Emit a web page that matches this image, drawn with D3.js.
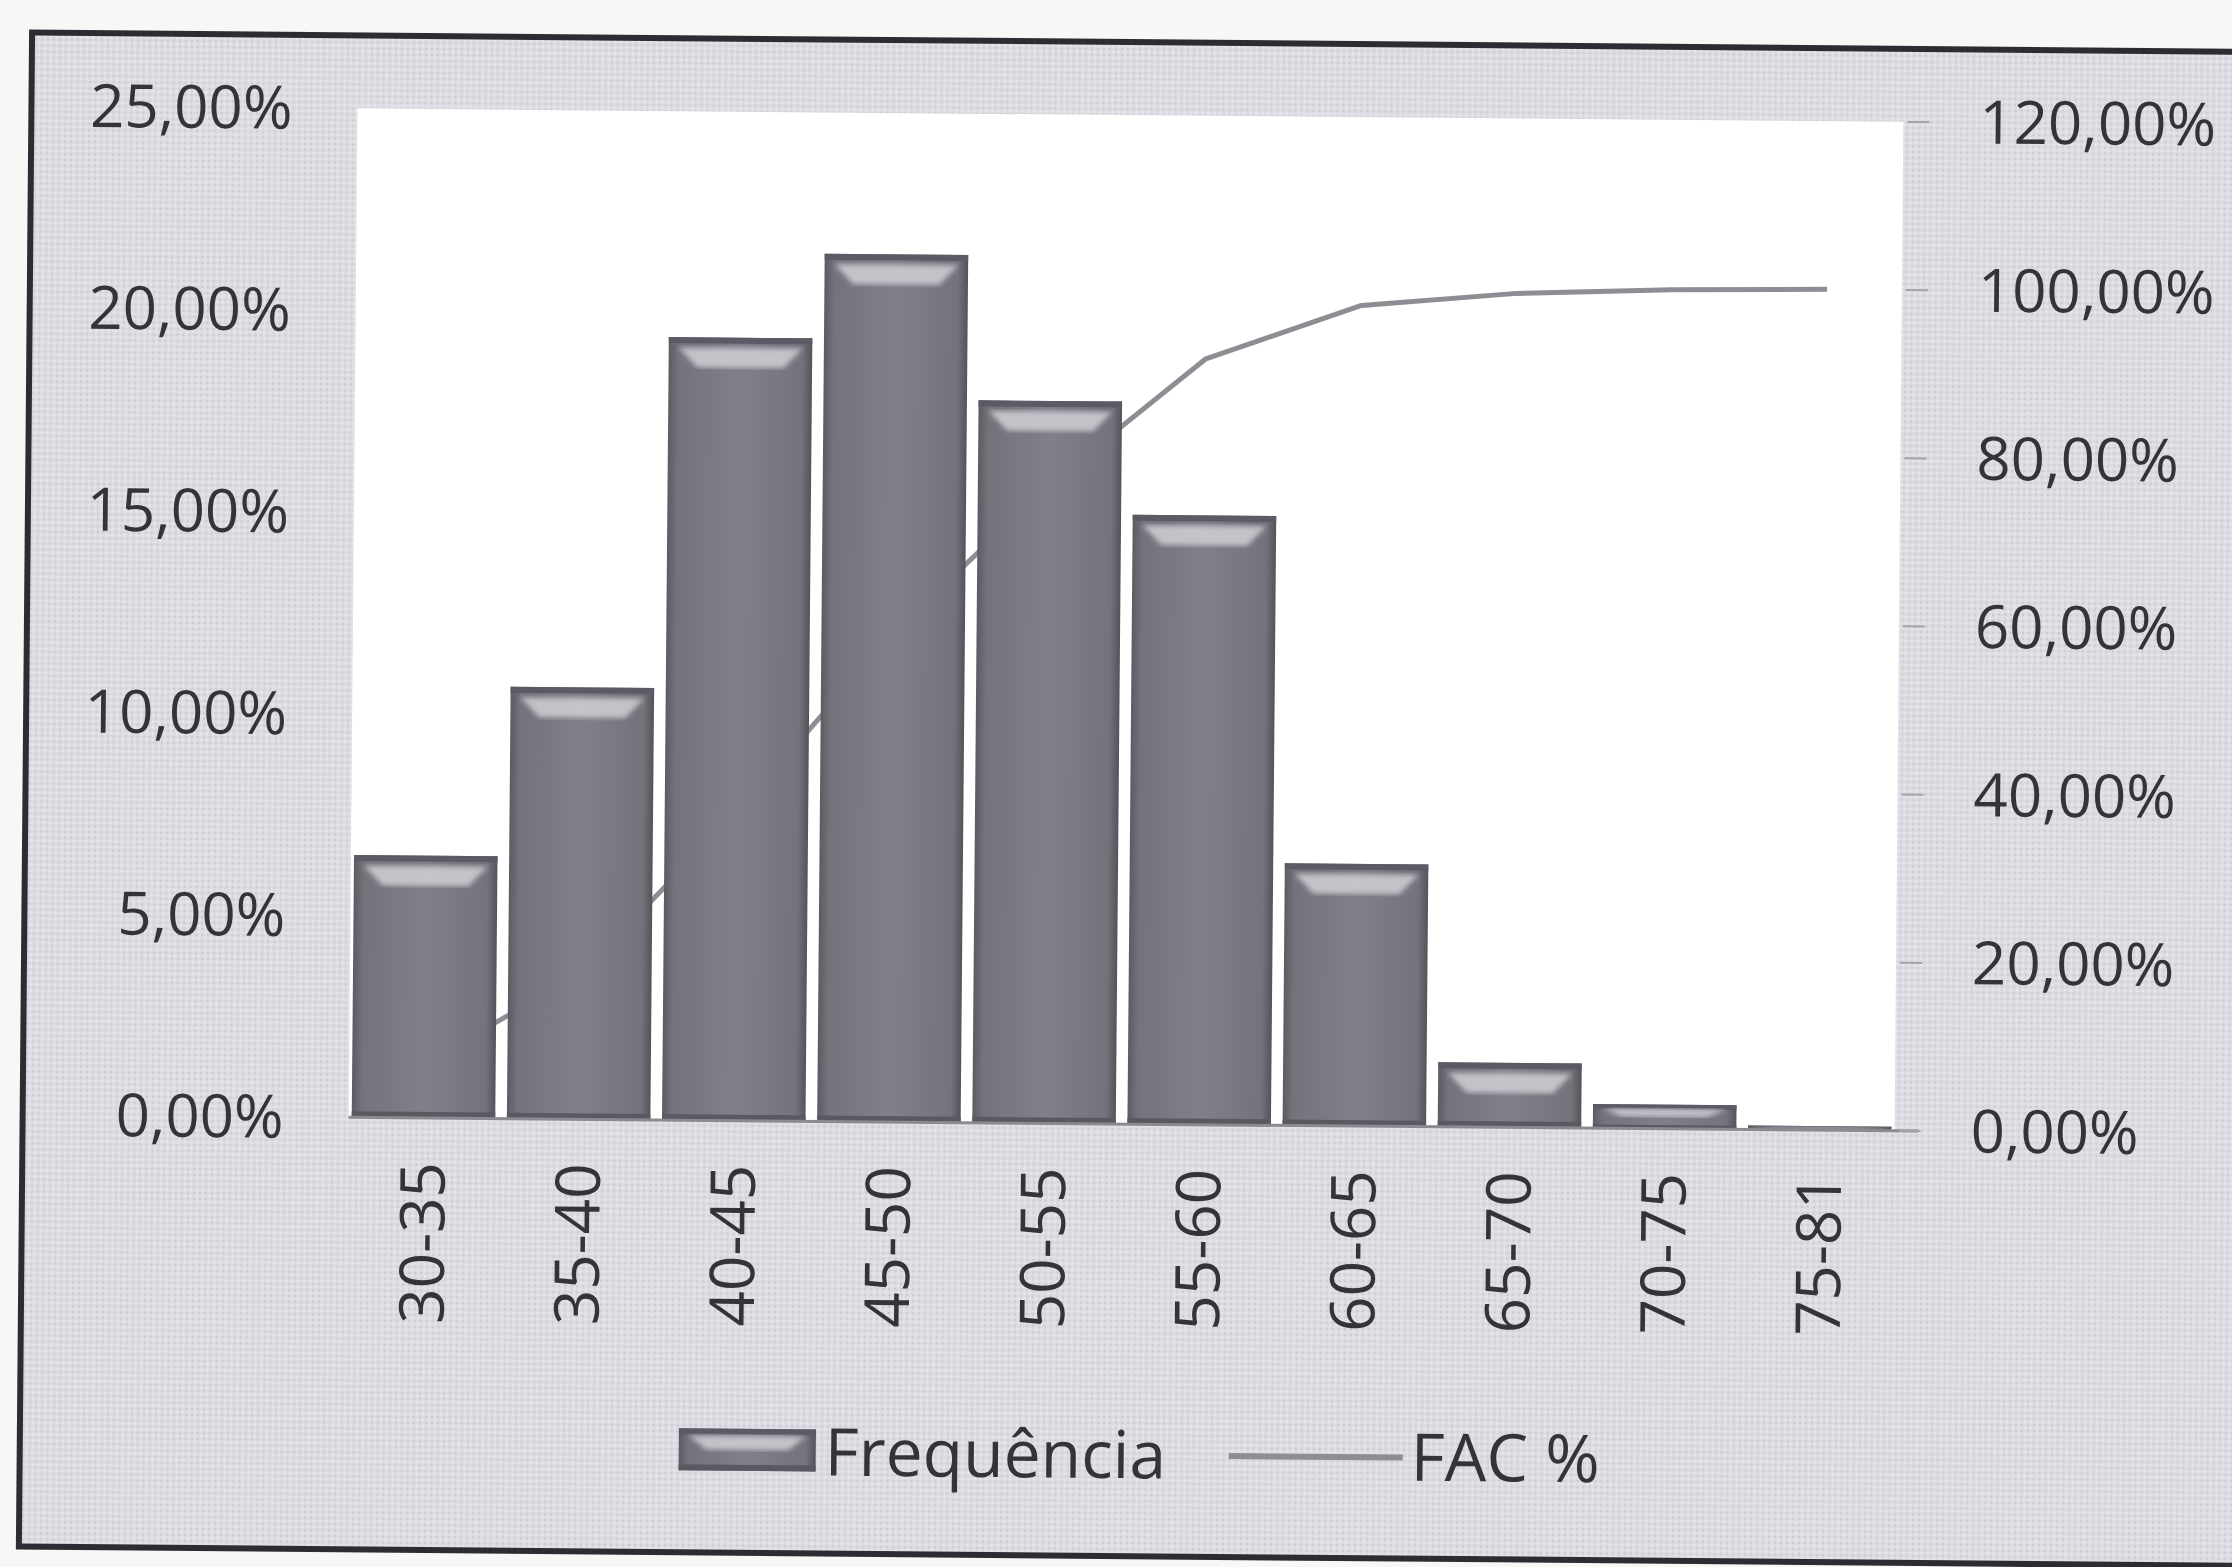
<!DOCTYPE html>
<html>
<head>
<meta charset="utf-8">
<script src="https://cdn.jsdelivr.net/npm/d3@7"></script>
<style>
  html, body { margin: 0; padding: 0; background: #f7f7f5; }
  svg { display: block; }
  text { font-family: "Open Sans", sans-serif; fill: #333338; }
</style>
</head>
<body>
<svg id="chart"></svg>
<script>
const width = 2232;
const height = 1567;

// dados
const categorias = ['30-35', '35-40', '40-45', '45-50', '50-55', '55-60', '60-65', '65-70', '70-75', '75-81'];
const frequencia = [6.5, 10.7, 19.4, 21.5, 17.9, 15.1, 6.5, 1.6, 0.6, 0.1];
const fac = [6.5, 17.2, 36.6, 58.1, 76.0, 91.1, 97.6, 99.2, 99.8, 100.0];
const ticksEsq = [0, 5, 10, 15, 20, 25];
const ticksDir = [0, 20, 40, 60, 80, 100, 120];
const legenda = ['Frequência', 'FAC %'];

const plot = {left: 353, right: 1899, top: 115, bottom: 1124};

const fmt = v => d3.format('.2f')(v).replace('.', ',') + '%';

const root = d3.select('#chart')
  .attr('width', width)
  .attr('height', height)
  .attr('viewBox', [0, 0, width, height]);

const defs = root.append('defs');

// o original e um scan levemente torto
const svg = root.append('g')
  .attr('transform', 'rotate(0.5, 1116, 620)');

// textura cinza do fundo (scan)
const pat = defs.append('pattern')
  .attr('id', 'textura')
  .attr('width', 6).attr('height', 6)
  .attr('patternUnits', 'userSpaceOnUse');
pat.append('rect').attr('width', 6).attr('height', 6).attr('fill', '#dcdde3');
pat.append('rect').attr('x', 0).attr('y', 0).attr('width', 2).attr('height', 2).attr('fill', '#cacbd2');
pat.append('rect').attr('x', 3).attr('y', 3).attr('width', 2).attr('height', 2).attr('fill', '#e8e9ee');

const barGrad = defs.append('linearGradient')
  .attr('id', 'barGrad')
  .attr('x1', '0%').attr('x2', '100%').attr('y1', '0%').attr('y2', '0%');
[[0, '#5c5b64'], [0.07, '#74737c'], [0.5, '#81808a'], [0.93, '#74737c'], [1, '#54535c']]
  .forEach(s => barGrad.append('stop').attr('offset', s[0]).attr('stop-color', s[1]));

const blur = defs.append('filter').attr('id', 'blur');
blur.append('feGaussianBlur').attr('stdDeviation', 2.5);

// moldura
svg.append('rect')
  .attr('x', 27).attr('y', 42)
  .attr('width', 2260).attr('height', 1514)
  .attr('fill', 'url(#textura)')
  .attr('stroke', '#2c2c32')
  .attr('stroke-width', 6);

// area do grafico
svg.append('rect')
  .attr('x', plot.left).attr('y', plot.top)
  .attr('width', plot.right - plot.left).attr('height', plot.bottom - plot.top)
  .attr('fill', '#ffffff');

const x = d3.scaleBand()
  .domain(categorias)
  .range([plot.left, plot.right])
  .paddingInner(0.075)
  .paddingOuter(0.02);

const yEsq = d3.scaleLinear().domain([0, 25]).range([plot.bottom, plot.top]);
const yDir = d3.scaleLinear().domain([0, 120]).range([plot.bottom, plot.top]);

// linha FAC % (fica atras das barras)
const linha = d3.line()
  .x((d, i) => x(categorias[i]) + x.bandwidth() / 2)
  .y(d => yDir(d));

svg.append('path')
  .datum(fac)
  .attr('d', linha)
  .attr('fill', 'none')
  .attr('stroke', '#8d8d93')
  .attr('stroke-width', 5)
  .attr('stroke-linejoin', 'round');

// barras com bisel
function drawBar(g, bx, by, bw, bh) {
  g.append('rect')
    .attr('x', bx).attr('y', by)
    .attr('width', bw).attr('height', bh)
    .attr('fill', 'url(#barGrad)');
  g.append('rect')
    .attr('x', bx).attr('y', by)
    .attr('width', bw).attr('height', Math.min(6, bh * 0.2))
    .attr('fill', '#5c5b65');
  g.append('rect')
    .attr('x', bx).attr('y', by + bh - Math.min(6, bh * 0.15))
    .attr('width', bw).attr('height', Math.min(6, bh * 0.15))
    .attr('fill', '#5a5962');
  const bv = Math.min(30, bh * 0.5);
  const inset = Math.min(30, bw * 0.2);
  g.append('polygon')
    .attr('points', [
      [bx + 10, by + bv * 0.35], [bx + bw - 10, by + bv * 0.35],
      [bx + bw - inset, by + bv], [bx + inset, by + bv]
    ].map(p => p.join(',')).join(' '))
    .attr('fill', '#d0d0d6')
    .attr('opacity', 0.85)
    .attr('filter', 'url(#blur)');
}

const barras = svg.append('g');
frequencia.forEach((v, i) => {
  const bx = x(categorias[i]);
  const by = yEsq(v);
  drawBar(barras, bx, by, x.bandwidth(), plot.bottom - by);
});

// eixo horizontal
svg.append('line')
  .attr('x1', plot.left).attr('x2', plot.right + 24)
  .attr('y1', plot.bottom).attr('y2', plot.bottom)
  .attr('stroke', '#8a8a90')
  .attr('stroke-width', 3);

// marcas do eixo secundario
svg.append('g')
  .selectAll('line')
  .data(ticksDir)
  .enter()
  .append('line')
    .attr('x1', plot.right + 4).attr('x2', plot.right + 26)
    .attr('y1', d => yDir(d)).attr('y2', d => yDir(d))
    .attr('stroke', '#a3a3aa')
    .attr('stroke-width', 2);

// rotulos eixo esquerdo
svg.append('g')
  .selectAll('text')
  .data(ticksEsq)
  .enter()
  .append('text')
    .attr('x', 288)
    .attr('y', d => yEsq(d))
    .attr('dy', '0.35em')
    .attr('text-anchor', 'end')
    .style('font-size', '60px')
    .text(d => fmt(d));

// rotulos eixo direito
svg.append('g')
  .selectAll('text')
  .data(ticksDir)
  .enter()
  .append('text')
    .attr('x', 1975)
    .attr('y', d => yDir(d))
    .attr('dy', '0.35em')
    .attr('text-anchor', 'start')
    .style('font-size', '60px')
    .text(d => fmt(d));

// rotulos das categorias
svg.append('g')
  .selectAll('text')
  .data(categorias)
  .enter()
  .append('text')
    .attr('transform', d => `translate(${x(d) + x.bandwidth() / 2},${plot.bottom + 44}) rotate(-90)`)
    .attr('dy', '0.35em')
    .attr('text-anchor', 'end')
    .style('font-size', '62px')
    .text(d => d);

// legenda
const leg = svg.append('g');
drawBar(leg, 686, 1432, 137, 42);
leg.append('text')
  .attr('x', 832).attr('y', 1455)
  .attr('dy', '0.35em')
  .style('font-size', '66px')
  .text(legenda[0]);
leg.append('line')
  .attr('x1', 1236).attr('x2', 1410)
  .attr('y1', 1455).attr('y2', 1455)
  .attr('stroke', '#8d8d93')
  .attr('stroke-width', 6);
leg.append('text')
  .attr('x', 1418).attr('y', 1455)
  .attr('dy', '0.35em')
  .style('font-size', '66px')
  .text(legenda[1]);
</script>
</body>
</html>
